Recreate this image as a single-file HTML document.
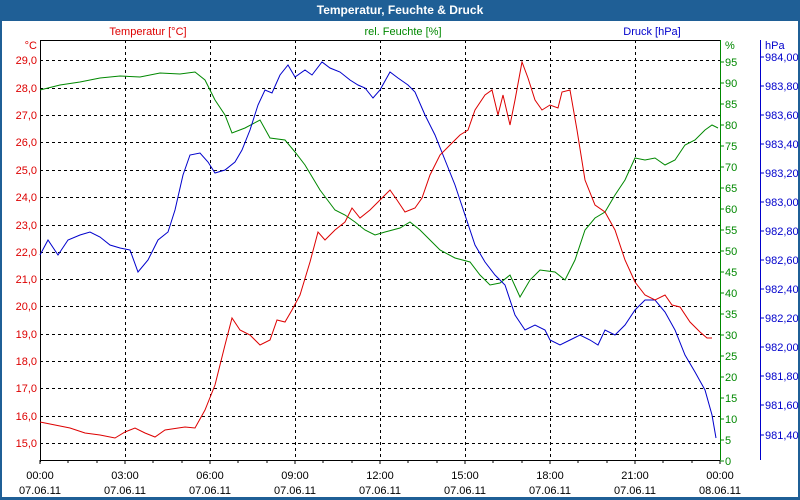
<!DOCTYPE html>
<html><head><meta charset="utf-8"><style>
html,body{margin:0;padding:0;background:#fff}
svg{display:block;font-family:"Liberation Sans",sans-serif;font-size:11px}
</style></head><body>
<svg width="800" height="500" viewBox="0 0 800 500">
<rect x="0" y="0" width="800" height="500" fill="#1f5f96"/>
<rect x="2" y="21" width="796" height="476" fill="#fff"/>
<text x="400" y="14" fill="#fff" font-weight="bold" font-size="12" text-anchor="middle">Temperatur, Feuchte &amp; Druck</text>
<g stroke="#000" stroke-dasharray="3,3" stroke-width="1">
<line x1="40" y1="60.5" x2="720" y2="60.5"/><line x1="40" y1="88.5" x2="720" y2="88.5"/>
<line x1="40" y1="115.5" x2="720" y2="115.5"/><line x1="40" y1="142.5" x2="720" y2="142.5"/>
<line x1="40" y1="170.5" x2="720" y2="170.5"/><line x1="40" y1="197.5" x2="720" y2="197.5"/>
<line x1="40" y1="225.5" x2="720" y2="225.5"/><line x1="40" y1="252.5" x2="720" y2="252.5"/>
<line x1="40" y1="279.5" x2="720" y2="279.5"/><line x1="40" y1="306.5" x2="720" y2="306.5"/>
<line x1="40" y1="334.5" x2="720" y2="334.5"/><line x1="40" y1="361.5" x2="720" y2="361.5"/>
<line x1="40" y1="388.5" x2="720" y2="388.5"/><line x1="40" y1="416.5" x2="720" y2="416.5"/>
<line x1="40" y1="443.5" x2="720" y2="443.5"/>
<line x1="125.5" y1="40" x2="125.5" y2="460"/><line x1="210.5" y1="40" x2="210.5" y2="460"/>
<line x1="295.5" y1="40" x2="295.5" y2="460"/><line x1="380.5" y1="40" x2="380.5" y2="460"/>
<line x1="465.5" y1="40" x2="465.5" y2="460"/><line x1="550.5" y1="40" x2="550.5" y2="460"/>
<line x1="635.5" y1="40" x2="635.5" y2="460"/>
</g>
<line x1="40" y1="40.5" x2="720" y2="40.5" stroke="#000"/>
<line x1="40.5" y1="40" x2="40.5" y2="462" stroke="#000"/>
<line x1="40" y1="460.5" x2="720" y2="460.5" stroke="#000"/>
<line x1="720.5" y1="40" x2="720.5" y2="460" stroke="#080"/>
<line x1="760.5" y1="40" x2="760.5" y2="460" stroke="#00c"/>
<g stroke="#000">
<path d="M40,460v4M68,460v3M97,460v3M125,460v4M153,460v3M182,460v3M210,460v4M238,460v3M267,460v3M295,460v4M323,460v3M352,460v3M380,460v4M408,460v3M437,460v3M465,460v4M493,460v3M522,460v3M550,460v4M578,460v3M607,460v3M635,460v4M663,460v3M692,460v3M720,460v4"/>
</g>
<g fill="#d00" text-anchor="end">
<text x="37" y="49">°C</text>
<text x="37" y="64">29,0</text><text x="37" y="92">28,0</text><text x="37" y="119">27,0</text>
<text x="37" y="146">26,0</text><text x="37" y="174">25,0</text><text x="37" y="201">24,0</text>
<text x="37" y="229">23,0</text><text x="37" y="256">22,0</text><text x="37" y="283">21,0</text>
<text x="37" y="310">20,0</text><text x="37" y="338">19,0</text><text x="37" y="365">18,0</text>
<text x="37" y="392">17,0</text><text x="37" y="420">16,0</text><text x="37" y="447">15,0</text>
</g>
<text x="148" y="35" fill="#d00" text-anchor="middle">Temperatur [°C]</text>
<text x="403" y="35" fill="#080" text-anchor="middle">rel. Feuchte [%]</text>
<text x="652" y="35" fill="#00c" text-anchor="middle">Druck [hPa]</text>
<g fill="#080" stroke="#080">
<path d="M720,62h4M720,83h4M720,104h4M720,125h4M720,146h4M720,167h4M720,188h4M720,209h4M720,230h4M720,251h4M720,272h4M720,293h4M720,314h4M720,335h4M720,356h4M720,377h4M720,398h4M720,419h4M720,440h4M720,461h4"/>
</g>
<g fill="#080">
<text x="725" y="49">%</text>
<text x="725" y="66">95</text><text x="725" y="87">90</text><text x="725" y="108">85</text>
<text x="725" y="129">80</text><text x="725" y="150">75</text><text x="725" y="171">70</text>
<text x="725" y="192">65</text><text x="725" y="213">60</text><text x="725" y="234">55</text>
<text x="725" y="255">50</text><text x="725" y="276">45</text><text x="725" y="297">40</text>
<text x="725" y="318">35</text><text x="725" y="339">30</text><text x="725" y="360">25</text>
<text x="725" y="381">20</text><text x="725" y="402">15</text><text x="725" y="423">10</text>
<text x="725" y="444">5</text><text x="725" y="465">0</text>
</g>
<path stroke="#00c" d="M760,57h4M760,86h4M760,115h4M760,144h4M760,173h4M760,202h4M760,231h4M760,260h4M760,289h4M760,318h4M760,347h4M760,376h4M760,405h4M760,435h4"/>
<g fill="#00c">
<text x="765" y="49">hPa</text>
<text x="765" y="61">984,00</text><text x="765" y="90">983,80</text><text x="765" y="119">983,60</text>
<text x="765" y="148">983,40</text><text x="765" y="177">983,20</text><text x="765" y="206">983,00</text>
<text x="765" y="235">982,80</text><text x="765" y="264">982,60</text><text x="765" y="293">982,40</text>
<text x="765" y="322">982,20</text><text x="765" y="351">982,00</text><text x="765" y="380">981,80</text>
<text x="765" y="409">981,60</text><text x="765" y="439">981,40</text>
</g>
<g text-anchor="middle" fill="#000">
<text x="40" y="479">00:00</text><text x="40" y="494">07.06.11</text>
<text x="125" y="479">03:00</text><text x="125" y="494">07.06.11</text>
<text x="210" y="479">06:00</text><text x="210" y="494">07.06.11</text>
<text x="295" y="479">09:00</text><text x="295" y="494">07.06.11</text>
<text x="380" y="479">12:00</text><text x="380" y="494">07.06.11</text>
<text x="465" y="479">15:00</text><text x="465" y="494">07.06.11</text>
<text x="550" y="479">18:00</text><text x="550" y="494">07.06.11</text>
<text x="635" y="479">21:00</text><text x="635" y="494">07.06.11</text>
<text x="720" y="479">00:00</text><text x="720" y="494">08.06.11</text>
</g>
<polyline fill="none" stroke="#080" points="40,90 60,85 80,82 100,78 120,76 140,77 160,73 180,74 195,72 205,80 215,100 225,115 232,133 245,128 260,120 270,138 285,140 295,152 305,165 320,190 335,210 345,215 355,222 365,230 375,235 385,232 400,228 410,222 420,230 430,240 440,250 455,258 470,262 480,275 490,285 500,283 510,275 520,297 530,280 540,270 555,272 565,280 575,260 585,230 595,218 605,212 615,195 625,180 635,158 645,160 655,158 665,165 675,160 685,145 695,140 705,130 712,125 718,128"/>
<polyline fill="none" stroke="#00c" points="40,255 48,240 58,255 68,240 80,235 90,232 100,237 110,245 120,248 130,250 138,272 148,260 158,240 168,232 175,210 183,175 190,155 200,153 208,162 215,173 225,170 235,162 242,150 250,130 258,105 265,90 272,93 280,75 288,65 295,77 305,70 312,75 322,62 330,68 340,72 350,80 358,85 365,88 373,98 380,90 390,72 398,78 408,85 415,92 425,115 435,135 445,160 455,185 465,215 475,245 485,262 495,275 505,285 515,315 525,330 535,325 545,330 550,340 560,345 570,340 580,335 590,340 598,345 605,330 615,335 625,325 635,310 645,300 655,300 665,312 675,330 685,355 695,372 705,390 712,415 716,438"/>
<polyline fill="none" stroke="#d00" points="40,422 55,425 70,428 85,433 100,435 115,438 125,432 135,428 145,433 155,437 165,430 185,427 195,428 205,410 215,385 225,345 232,318 240,330 250,335 260,345 270,340 277,320 285,322 292,310 300,295 310,262 318,232 325,240 335,230 345,222 352,208 360,218 370,210 380,200 390,190 397,200 405,212 415,208 422,198 430,175 440,155 450,145 460,135 468,130 475,110 485,95 492,90 498,115 503,95 510,125 515,100 522,62 528,78 535,100 542,110 550,105 558,108 562,92 570,90 577,130 585,180 595,205 605,212 615,230 625,260 635,282 645,295 655,300 665,295 672,305 680,307 690,322 700,332 707,338 712,338"/>
</svg>
</body></html>
